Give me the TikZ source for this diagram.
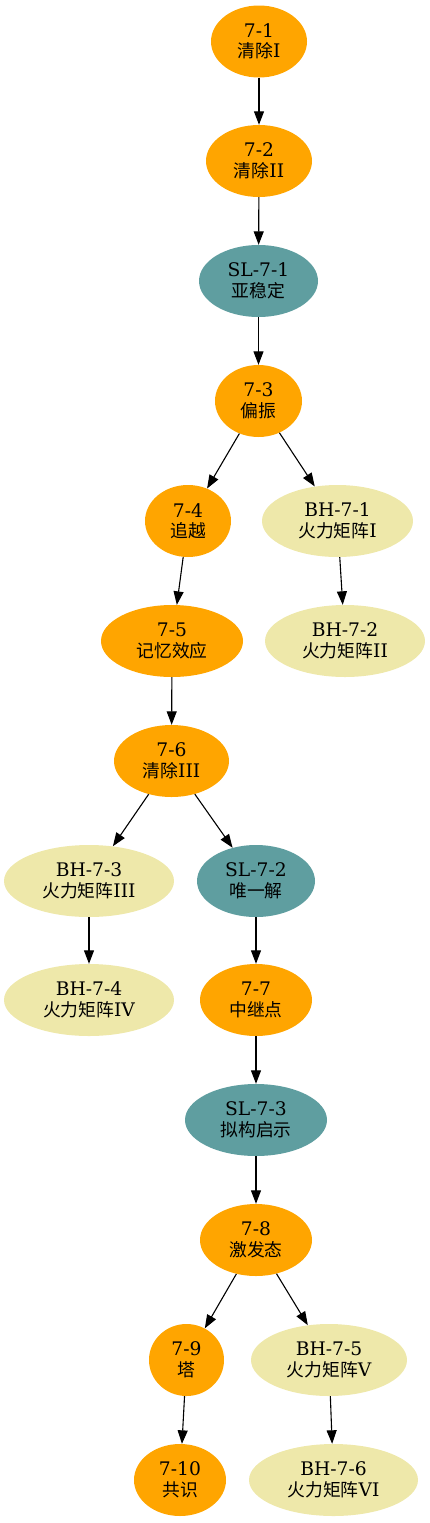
\documentclass[tikz,border=0pt]{standalone}
\usepackage{fontspec}
\setmainfont{DejaVu Serif}
\newfontfamily\cjk[Scale=0.95]{Noto Sans CJK SC}
\usetikzlibrary{shapes.geometric,arrows.meta}
\definecolor{gvorange}{HTML}{FFA500}
\definecolor{gvcadet}{HTML}{5F9EA0}
\definecolor{gvgold}{HTML}{EEE8AA}
\tikzset{
  gvnode/.style={ellipse, inner sep=0pt, minimum height=72pt, align=center,
    font=\fontsize{18.7}{20.5}\selectfont, text=black},
  lvl/.style={gvnode, fill=gvorange},
  slnode/.style={gvnode, fill=gvcadet},
  bhnode/.style={gvnode, fill=gvgold},
  edge/.style={line width=1.1pt, -{Triangle[length=13.5pt,width=10pt]}},
}
\begin{document}
\begin{tikzpicture}[x=1pt,y=-1pt]
\useasboundingbox (0,0) rectangle (430,1523);
\node[lvl, minimum width=96pt] (n71) at (259,41.5) {7-1\\{\cjk 清除}I};
\node[lvl, minimum width=106pt] (n72) at (259,161) {7-2\\{\cjk 清除}II};
\node[slnode, minimum width=119pt] (sl1) at (258.5,281) {SL-7-1\\{\cjk 亚稳定}};
\node[lvl, minimum width=87pt] (n73) at (258.5,401) {7-3\\{\cjk 偏振}};
\node[lvl, minimum width=86pt] (n74) at (188,521) {7-4\\{\cjk 追越}};
\node[bhnode, minimum width=151pt] (bh1) at (337.5,521) {BH-7-1\\{\cjk 火力矩阵}I};
\node[lvl, minimum width=142pt] (n75) at (172,641) {7-5\\{\cjk 记忆效应}};
\node[bhnode, minimum width=160pt] (bh2) at (345,641) {BH-7-2\\{\cjk 火力矩阵}II};
\node[lvl, minimum width=115pt] (n76) at (171.5,761) {7-6\\{\cjk 清除}III};
\node[bhnode, minimum width=170pt] (bh3) at (89,881) {BH-7-3\\{\cjk 火力矩阵}III};
\node[slnode, minimum width=118pt] (sl2) at (256,881) {SL-7-2\\{\cjk 唯一解}};
\node[bhnode, minimum width=170pt] (bh4) at (89,1000) {BH-7-4\\{\cjk 火力矩阵}IV};
\node[lvl, minimum width=112pt] (n77) at (256,1000) {7-7\\{\cjk 中继点}};
\node[slnode, minimum width=142pt] (sl3) at (256,1120) {SL-7-3\\{\cjk 拟构启示}};
\node[lvl, minimum width=112pt] (n78) at (256,1240) {7-8\\{\cjk 激发态}};
\node[lvl, minimum width=75pt] (n79) at (186.5,1360) {7-9\\{\cjk 塔}};
\node[bhnode, minimum width=156pt] (bh5) at (329,1360) {BH-7-5\\{\cjk 火力矩阵}V};
\node[lvl, minimum width=92pt] (n710) at (180,1480) {7-10\\{\cjk 共识}};
\node[bhnode, minimum width=169pt] (bh6) at (333.5,1480) {BH-7-6\\{\cjk 火力矩阵}VI};
\draw[edge] (n71) -- (n72);
\draw[edge] (n72) -- (sl1);
\draw[edge] (sl1) -- (n73);
\draw[edge] (n73) -- (n74);
\draw[edge] (n73) -- (bh1);
\draw[edge] (bh1) -- (bh2);
\draw[edge] (n74) -- (n75);
\draw[edge] (n75) -- (n76);
\draw[edge] (n76) -- (bh3);
\draw[edge] (n76) -- (sl2);
\draw[edge] (bh3) -- (bh4);
\draw[edge] (sl2) -- (n77);
\draw[edge] (n77) -- (sl3);
\draw[edge] (sl3) -- (n78);
\draw[edge] (n78) -- (n79);
\draw[edge] (n78) -- (bh5);
\draw[edge] (n79) -- (n710);
\draw[edge] (bh5) -- (bh6);
\end{tikzpicture}
\end{document}
